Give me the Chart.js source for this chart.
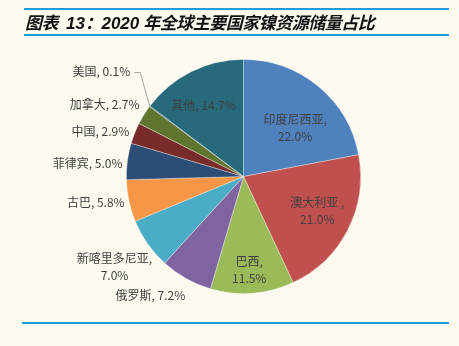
<!DOCTYPE html>
<html>
<head>
<meta charset="utf-8">
<script src="https://cdn.jsdelivr.net/npm/chart.js@4"></script>
<style>
  html, body { margin: 0; padding: 0; background: #FEFAF0; }
  #wrap { position: relative; width: 459px; height: 346px; overflow: hidden; }
  #chartBox { position: absolute; left: 0; top: 0; width: 459px; height: 346px; }
  .rule { position: absolute; height: 2px; background: #1D9BE0; }
  #title {
    position: absolute; left: 25px; top: 9px; height: 25px; line-height: 25px;
    font-family: "Noto Sans CJK SC", "DejaVu Sans", sans-serif;
    font-size: 17px; font-weight: bold; font-style: italic; color: #111;
    white-space: nowrap; letter-spacing: -0.5px;
  }
  #title .num { font-family: "Liberation Sans", Arial, sans-serif; letter-spacing: 0; }
</style>
</head>
<body>
<div id="wrap">
  <div id="chartBox"><canvas id="myChart"></canvas></div>
  <div class="rule" style="left:24px; top:8px; width:425px;"></div>
  <div id="title">图表<span class="num" style="margin-left:8px">13</span>：<span class="num">2020</span><span style="margin-left:4px">年全球主要国家镍资源储量占比</span></div>
  <div class="rule" style="left:24px; top:34px; width:425px;"></div>
  <div class="rule" style="left:22px; top:322px; width:427px;"></div>
</div>
<script>
const countries = ["印度尼西亚", "澳大利亚", "巴西", "俄罗斯", "新喀里多尼亚", "古巴", "菲律宾", "中国", "加拿大", "美国", "其他"];
const shares = [22.0, 21.0, 11.5, 7.2, 7.0, 5.8, 5.0, 2.9, 2.7, 0.1, 14.7];
const COLOR = ["#4F81BD", "#C0504D", "#9BBB59", "#8064A2", "#4BACC6", "#F79646", "#2C4D75", "#772C2A", "#5F7530", "#4D3B62", "#276A7C"];

// how each data label is laid out: inside / outside the pie, line split, small nudges
const labelLayout = [
  { inside: true, split: true, dx: 3, dy: 10 },
  { inside: true, split: true, dx: 6, dy: 0, sep: " ," },
  { inside: true, split: true, dx: 0, dy: 18 },
  { inside: false, dx: -17, dy: -16 },
  { inside: false, split: true, dx: -2, dy: 1 },
  { inside: false, dx: 4, dy: -6 },
  { inside: false, dx: -2, dy: 7 },
  { inside: false, dx: 1, dy: 12 },
  { inside: false, dx: -7, dy: 10 },
  { inside: false, dx: -18, dy: -12, leader: true },
  { inside: true, dx: -6, dy: -3 },
];

const pieLabels = {
  id: "pieLabels",
  afterDatasetsDraw(chart) {
    const c = chart.ctx;
    const meta = chart.getDatasetMeta(0);
    c.save();
    c.font = '12px "Noto Sans CJK SC", sans-serif';
    c.fillStyle = "#404040";
    c.textAlign = "center";
    c.textBaseline = "middle";
    meta.data.forEach((arc, i) => {
      const lay = labelLayout[i];
      const p = arc.getProps(["x", "y", "startAngle", "endAngle", "outerRadius"], true);
      const mid = (p.startAngle + p.endAngle) / 2;
      const r = lay.inside ? p.outerRadius * 0.65 : p.outerRadius + 38;
      const x = p.x + Math.cos(mid) * r + lay.dx;
      const y = p.y + Math.sin(mid) * r + lay.dy;
      const name = countries[i] + (lay.sep || ",");
      const pct = shares[i].toFixed(1) + "%";
      if (lay.split) {
        c.fillText(name, x, y - 8.5);
        c.fillText(pct, x, y + 8.5);
      } else {
        const txt = name + " " + pct;
        c.fillText(txt, x, y);
        if (lay.leader) {
          const w = c.measureText(txt).width;
          const ex = p.x + Math.cos(mid) * p.outerRadius;
          const ey = p.y + Math.sin(mid) * p.outerRadius;
          c.strokeStyle = "#A6A6A6";
          c.lineWidth = 1;
          c.beginPath();
          c.moveTo(x + w / 2 + 4, y + 1);
          c.lineTo(x + w / 2 + 10, y + 1);
          c.lineTo(ex, ey);
          c.stroke();
        }
      }
    });
    c.restore();
  },
};

const ctx = document.getElementById("myChart");
new Chart(ctx, {
  type: "pie",
  data: {
    labels: countries,
    datasets: [
      {
        data: shares,
        backgroundColor: COLOR,
        borderColor: "rgba(255,255,255,0.45)",
        borderWidth: 0.75,
      },
    ],
  },
  options: {
    responsive: true,
    maintainAspectRatio: false,
    animation: false,
    layout: { padding: { left: 126, right: 98, top: 59, bottom: 52 } },
    plugins: {
      legend: { display: false },
      tooltip: { enabled: false },
    },
  },
  plugins: [pieLabels],
});
</script>
</body>
</html>
